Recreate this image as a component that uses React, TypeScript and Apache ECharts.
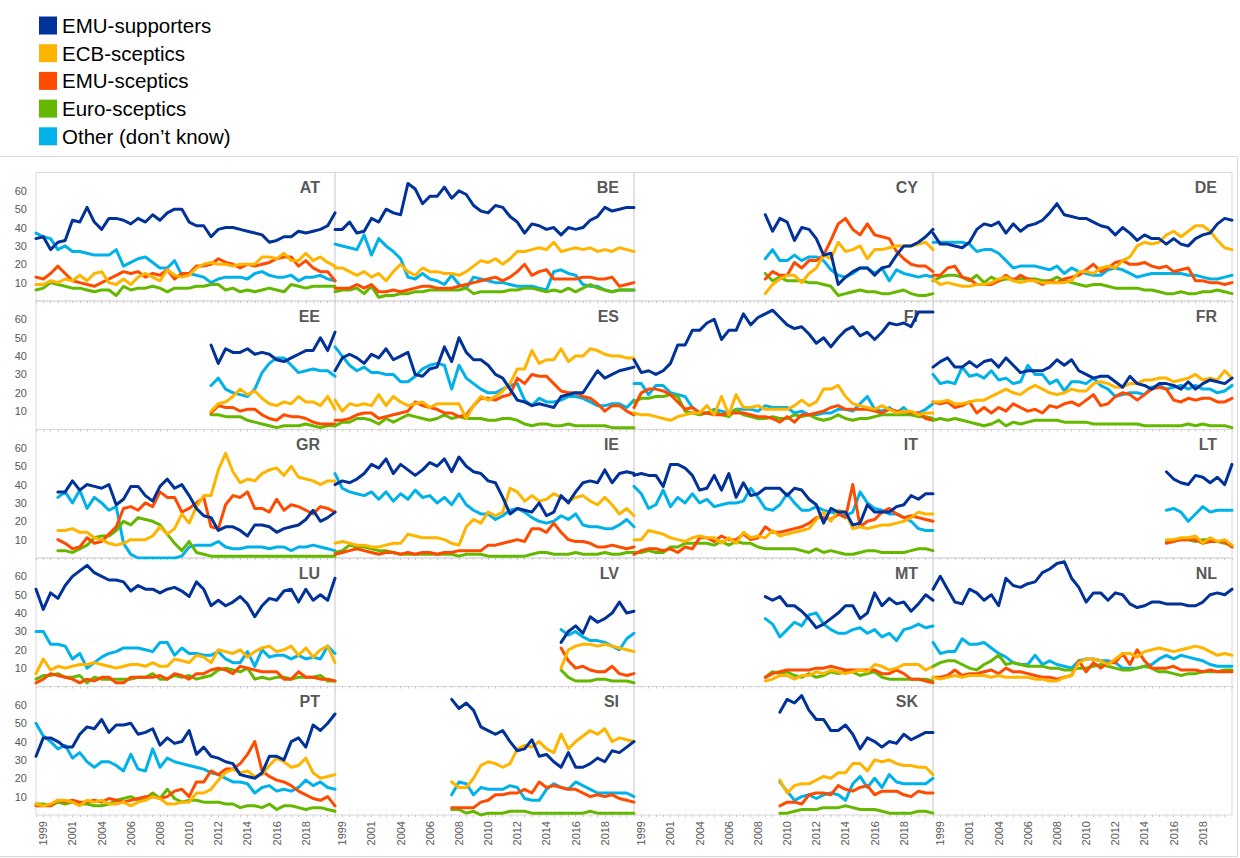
import React, { useEffect, useRef } from "react";
import * as echarts from "echarts";

// Survey waves (category axis); labels show the year of every 4th wave starting at index 1
const surveys = [
  "1998-11", "1999-04", "1999-11", "2000-04", "2000-11", "2001-04", "2001-11", "2002-11", "2003-11", "2004-04",
  "2004-11", "2005-05", "2005-11", "2006-04", "2006-10", "2007-04", "2007-10", "2008-04", "2008-10", "2009-06",
  "2009-11", "2010-05", "2010-11", "2011-05", "2011-11", "2012-05", "2012-11", "2013-05", "2013-11", "2014-05",
  "2014-11", "2015-05", "2015-11", "2016-05", "2016-11", "2017-05", "2017-11", "2018-05", "2018-11", "2019-03",
  "2019-06", "2019-11",
];

const seriesNames = ["EMU-supporters", "ECB-sceptics", "EMU-sceptics", "Euro-sceptics", "Other (don’t know)"];
const seriesColors = ["#003299", "#FFB400", "#FF4B00", "#65B800", "#00B1EA"];

const countries = ["AT", "BE", "CY", "DE", "EE", "ES", "FI", "FR", "GR", "IE", "IT", "LT", "LU", "LV", "MT", "NL", "PT", "SI", "SK"];
// index of the first survey wave available for each country
const firstSurvey = [0, 0, 18, 0, 24, 0, 0, 0, 3, 0, 0, 32, 0, 31, 18, 0, 0, 16, 20];

// each country: [EMU-supporters, ECB-sceptics, EMU-sceptics, Euro-sceptics, Other]
const AT = [
  [34, 35, 28, 32, 33, 44, 43, 51, 43, 39, 45, 45, 44, 42, 45, 43, 47, 44, 48, 50, 50, 43, 41, 41, 35, 39, 40, 40, 39, 38, 37, 36, 32, 33, 35, 35, 38, 37, 38, 39, 41, 48],
  [9, 9, 11, 10, 12, 11, 14, 11, 15, 16, 10, 9, 12, 9, 13, 15, 13, 11, 17, 14, 13, 14, 18, 20, 21, 20, 20, 19, 20, 20, 20, 24, 24, 23, 26, 22, 22, 26, 22, 24, 21, 19],
  [13, 12, 15, 19, 15, 11, 10, 9, 8, 10, 12, 14, 16, 15, 16, 13, 15, 14, 17, 12, 15, 15, 19, 19, 20, 23, 21, 20, 18, 20, 19, 20, 21, 23, 24, 24, 19, 22, 18, 16, 16, 11],
  [6, 7, 10, 9, 8, 7, 7, 6, 5, 6, 6, 3, 8, 6, 7, 7, 8, 7, 5, 7, 7, 7, 8, 8, 9, 9, 6, 7, 5, 6, 5, 6, 7, 6, 5, 9, 8, 7, 8, 8, 8, 8],
  [37, 35, 34, 28, 30, 27, 27, 26, 25, 25, 25, 28, 19, 21, 23, 24, 21, 18, 18, 22, 14, 15, 14, 13, 10, 12, 13, 13, 13, 12, 15, 16, 14, 13, 13, 14, 11, 13, 13, 14, 12, 11],
];
const BE = [
  [39, 39, 43, 37, 38, 45, 43, 50, 48, 47, 64, 61, 53, 57, 57, 62, 56, 60, 58, 52, 49, 48, 52, 51, 46, 43, 37, 42, 41, 39, 40, 36, 40, 39, 40, 44, 46, 51, 49, 50, 51, 51],
  [18, 18, 16, 14, 16, 13, 15, 11, 16, 20, 16, 14, 18, 16, 16, 15, 15, 14, 16, 19, 22, 21, 23, 20, 23, 27, 27, 28, 29, 28, 32, 27, 28, 29, 28, 29, 27, 28, 27, 29, 28, 27],
  [7, 7, 7, 9, 7, 9, 5, 5, 6, 5, 6, 7, 8, 8, 7, 7, 7, 8, 9, 10, 11, 12, 13, 11, 13, 16, 20, 14, 16, 17, 12, 12, 12, 12, 13, 13, 12, 12, 13, 8, 9, 10],
  [5, 6, 6, 7, 4, 8, 2, 3, 3, 4, 4, 5, 5, 6, 6, 6, 6, 6, 7, 4, 5, 5, 5, 5, 6, 6, 7, 7, 6, 5, 6, 5, 7, 5, 7, 9, 7, 6, 5, 6, 6, 6],
  [31, 30, 29, 28, 36, 25, 34, 30, 27, 23, 13, 12, 15, 12, 11, 9, 14, 9, 7, 13, 12, 11, 10, 10, 9, 8, 8, 8, 7, 6, 16, 17, 15, 14, 9, 8, 8, 6, 5, 6, 6, 6],
];
const CY = [
  [47, 38, 45, 43, 33, 40, 39, 34, 25, 26, 9, 13, 16, 18, 18, 14, 18, 19, 25, 30, 30, 32, 35, 39],
  [4, 9, 12, 14, 14, 10, 15, 18, 25, 23, 32, 27, 28, 30, 23, 28, 28, 29, 30, 30, 30, 31, 32, 28],
  [12, 16, 14, 14, 21, 18, 22, 22, 25, 33, 42, 45, 39, 36, 42, 36, 35, 34, 27, 23, 20, 19, 19, 16],
  [15, 11, 13, 11, 11, 11, 10, 10, 9, 8, 3, 4, 5, 6, 5, 5, 4, 4, 5, 6, 4, 3, 3, 4],
  [23, 28, 22, 22, 25, 22, 24, 24, 22, 17, 14, 13, 15, 18, 18, 15, 18, 11, 17, 15, 14, 13, 14, 13],
];
const DE = [
  [37, 31, 31, 30, 29, 32, 39, 42, 41, 43, 37, 42, 38, 41, 42, 44, 48, 53, 47, 46, 45, 45, 43, 41, 40, 36, 40, 37, 33, 36, 34, 34, 31, 34, 31, 30, 34, 36, 37, 42, 45, 44],
  [12, 9, 10, 9, 8, 8, 9, 9, 10, 12, 13, 11, 10, 11, 11, 10, 10, 10, 10, 11, 16, 16, 15, 18, 19, 18, 22, 24, 30, 32, 31, 32, 36, 38, 35, 38, 41, 41, 38, 33, 29, 28],
  [14, 14, 18, 19, 13, 12, 9, 9, 9, 11, 14, 11, 14, 12, 11, 9, 11, 10, 12, 13, 14, 17, 20, 16, 18, 21, 22, 20, 20, 21, 19, 18, 19, 16, 17, 18, 11, 11, 10, 10, 9, 10],
  [11, 13, 14, 14, 13, 11, 14, 10, 13, 11, 12, 12, 12, 12, 12, 11, 11, 13, 11, 10, 9, 8, 9, 9, 8, 7, 7, 7, 7, 6, 6, 5, 4, 4, 5, 4, 4, 5, 5, 6, 5, 4],
  [32, 32, 32, 32, 32, 31, 27, 28, 28, 26, 22, 18, 19, 19, 19, 18, 17, 19, 15, 18, 16, 15, 14, 14, 17, 18, 17, 15, 13, 14, 15, 15, 15, 15, 15, 14, 14, 13, 12, 12, 13, 14],
];
const EE = [
  [46, 36, 44, 42, 42, 44, 41, 42, 41, 38, 37, 39, 41, 43, 43, 50, 43, 53],
  [10, 14, 15, 18, 22, 19, 21, 17, 14, 13, 15, 14, 18, 15, 15, 13, 18, 11],
  [9, 13, 12, 12, 10, 11, 11, 8, 6, 5, 8, 7, 7, 6, 4, 3, 3, 3],
  [8, 8, 7, 7, 7, 5, 4, 3, 2, 1, 2, 2, 2, 3, 2, 1, 2, 2],
  [24, 28, 22, 20, 19, 18, 22, 31, 36, 39, 39, 35, 31, 32, 33, 32, 32, 29],
];
const ES = [
  [32, 39, 41, 39, 36, 41, 39, 44, 38, 40, 42, 30, 29, 33, 34, 45, 37, 50, 42, 38, 38, 35, 30, 28, 22, 16, 15, 13, 14, 13, 12, 18, 19, 20, 20, 26, 32, 28, 30, 32, 33, 34],
  [16, 10, 14, 13, 14, 13, 19, 13, 18, 15, 13, 14, 15, 12, 14, 14, 14, 14, 6, 13, 18, 16, 18, 21, 25, 33, 33, 43, 36, 38, 38, 44, 37, 40, 40, 44, 43, 41, 40, 40, 39, 39],
  [5, 5, 6, 8, 9, 9, 6, 7, 8, 9, 10, 15, 13, 12, 11, 9, 9, 7, 8, 13, 17, 17, 16, 18, 19, 28, 25, 30, 29, 29, 25, 21, 20, 20, 18, 17, 14, 10, 13, 13, 10, 8],
  [2, 4, 4, 6, 6, 5, 3, 6, 4, 6, 8, 7, 6, 5, 6, 8, 6, 7, 6, 6, 6, 5, 5, 6, 6, 5, 3, 2, 3, 3, 2, 2, 3, 2, 2, 2, 2, 2, 1, 1, 1, 1],
  [45, 40, 35, 32, 34, 31, 31, 30, 30, 26, 26, 29, 33, 35, 36, 35, 22, 35, 28, 25, 22, 20, 20, 22, 24, 25, 16, 13, 17, 15, 15, 16, 18, 18, 17, 15, 13, 13, 14, 14, 12, 16],
];
const FI = [
  [38, 31, 32, 30, 32, 36, 46, 46, 54, 54, 58, 60, 49, 54, 54, 63, 57, 61, 63, 65, 61, 57, 55, 56, 52, 47, 50, 45, 50, 54, 56, 51, 53, 49, 53, 58, 57, 58, 56, 64, 64, 64],
  [9, 8, 8, 7, 6, 5, 7, 8, 9, 9, 13, 8, 18, 8, 19, 12, 12, 13, 11, 11, 11, 11, 13, 16, 13, 15, 22, 22, 24, 18, 14, 13, 12, 11, 13, 11, 9, 10, 10, 8, 9, 9],
  [12, 20, 22, 22, 21, 19, 15, 11, 12, 9, 9, 8, 8, 9, 9, 9, 8, 7, 7, 6, 4, 7, 4, 8, 8, 9, 10, 12, 13, 11, 11, 11, 11, 10, 9, 11, 10, 10, 9, 9, 6, 5],
  [15, 17, 17, 18, 18, 19, 18, 10, 9, 8, 9, 10, 8, 7, 11, 8, 7, 6, 6, 7, 6, 6, 8, 7, 8, 6, 5, 6, 8, 6, 5, 6, 6, 7, 8, 8, 8, 8, 8, 7, 7, 6],
  [25, 25, 19, 24, 24, 20, 19, 18, 12, 9, 9, 11, 10, 9, 11, 11, 11, 10, 13, 12, 12, 12, 9, 10, 8, 8, 9, 9, 11, 11, 10, 14, 18, 11, 10, 12, 9, 12, 8, 9, 11, 14],
];
const FR = [
  [34, 37, 39, 34, 34, 37, 34, 37, 38, 34, 39, 35, 31, 32, 32, 32, 34, 38, 35, 38, 32, 30, 28, 29, 29, 26, 23, 29, 25, 24, 22, 25, 25, 24, 22, 26, 22, 25, 27, 26, 25, 28],
  [15, 15, 16, 14, 14, 15, 16, 16, 18, 20, 22, 20, 19, 22, 24, 22, 20, 19, 20, 22, 21, 21, 25, 26, 25, 23, 23, 25, 25, 27, 27, 28, 28, 26, 27, 28, 30, 27, 28, 27, 32, 28],
  [15, 14, 15, 12, 13, 15, 9, 12, 9, 12, 10, 14, 12, 10, 11, 9, 13, 12, 14, 15, 13, 16, 19, 13, 14, 18, 20, 19, 16, 19, 22, 23, 22, 16, 15, 17, 16, 17, 17, 15, 15, 17],
  [5, 6, 5, 6, 5, 4, 3, 2, 3, 5, 2, 4, 3, 4, 5, 5, 5, 5, 4, 4, 4, 4, 3, 3, 3, 3, 3, 3, 3, 2, 2, 2, 2, 2, 2, 3, 2, 3, 2, 2, 2, 1],
  [30, 25, 26, 25, 34, 29, 30, 28, 32, 27, 28, 25, 26, 35, 30, 30, 25, 27, 21, 26, 26, 25, 28, 24, 22, 18, 19, 20, 20, 19, 23, 24, 22, 23, 24, 22, 24, 22, 22, 20, 21, 24],
];
const GR = [
  [36, 36, 42, 37, 40, 39, 38, 40, 29, 32, 39, 39, 34, 31, 39, 43, 38, 40, 34, 27, 23, 22, 15, 17, 17, 15, 12, 18, 18, 17, 14, 16, 17, 18, 21, 26, 20, 22, 25],
  [15, 15, 16, 14, 14, 11, 10, 8, 7, 8, 10, 10, 10, 12, 17, 13, 16, 24, 19, 28, 34, 34, 48, 57, 47, 41, 43, 42, 46, 48, 49, 45, 50, 44, 43, 42, 40, 42, 42],
  [10, 8, 5, 6, 11, 8, 9, 13, 17, 27, 28, 26, 30, 28, 36, 33, 33, 25, 27, 30, 33, 17, 16, 29, 34, 33, 36, 27, 27, 25, 32, 26, 29, 28, 26, 24, 28, 27, 25],
  [4, 4, 3, 5, 7, 11, 12, 12, 15, 20, 18, 22, 21, 20, 18, 13, 8, 4, 9, 3, 2, 1, 1, 1, 1, 1, 1, 1, 1, 1, 1, 1, 1, 1, 1, 1, 1, 1, 1],
  [33, 36, 30, 37, 27, 33, 30, 26, 28, 8, 2, 0, 0, 0, 0, 0, 0, 1, 6, 7, 7, 7, 9, 6, 5, 5, 6, 6, 6, 5, 6, 6, 4, 6, 6, 7, 6, 5, 4],
];
const IE = [
  [40, 42, 41, 43, 46, 51, 49, 54, 46, 51, 48, 45, 48, 52, 50, 54, 47, 55, 50, 47, 46, 42, 41, 33, 24, 27, 26, 25, 30, 23, 25, 34, 30, 36, 41, 42, 41, 48, 41, 46, 47, 46],
  [8, 9, 8, 7, 7, 6, 6, 7, 8, 8, 13, 12, 11, 11, 11, 10, 8, 7, 17, 21, 19, 25, 23, 25, 38, 36, 31, 34, 31, 32, 35, 33, 31, 33, 34, 31, 29, 33, 29, 24, 27, 23],
  [2, 3, 4, 5, 4, 3, 2, 3, 3, 2, 3, 2, 3, 3, 2, 3, 3, 4, 4, 4, 4, 7, 7, 8, 9, 10, 9, 16, 16, 14, 19, 14, 10, 9, 9, 8, 6, 6, 7, 6, 5, 6],
  [3, 4, 7, 6, 6, 5, 4, 4, 3, 2, 2, 2, 2, 2, 2, 2, 2, 1, 2, 2, 2, 1, 1, 1, 1, 1, 1, 2, 3, 3, 2, 2, 2, 3, 2, 2, 2, 3, 2, 2, 3, 3],
  [46, 38, 36, 35, 34, 36, 32, 36, 31, 35, 32, 37, 33, 34, 30, 33, 29, 35, 29, 26, 24, 24, 21, 23, 26, 27, 25, 22, 20, 19, 20, 23, 21, 24, 18, 17, 17, 16, 16, 18, 21, 17],
];
const IT = [
  [45, 46, 45, 45, 39, 51, 51, 49, 45, 37, 38, 45, 37, 46, 33, 41, 34, 35, 38, 38, 38, 34, 38, 37, 32, 29, 19, 27, 25, 25, 18, 19, 29, 25, 25, 25, 28, 29, 34, 32, 35, 35],
  [10, 10, 15, 14, 13, 11, 10, 9, 11, 12, 11, 11, 8, 11, 8, 14, 11, 12, 11, 15, 12, 13, 14, 15, 16, 21, 25, 20, 26, 25, 16, 17, 16, 17, 18, 18, 19, 20, 22, 25, 24, 24],
  [2, 4, 5, 5, 4, 5, 3, 6, 5, 11, 11, 9, 12, 10, 10, 13, 10, 11, 17, 14, 14, 15, 16, 17, 19, 22, 22, 21, 24, 22, 40, 17, 20, 21, 25, 27, 24, 22, 23, 22, 21, 20],
  [3, 3, 4, 3, 3, 6, 6, 8, 8, 8, 8, 7, 9, 7, 9, 8, 8, 6, 5, 5, 5, 5, 5, 4, 3, 5, 3, 4, 3, 2, 2, 3, 4, 4, 3, 3, 3, 3, 4, 5, 5, 4],
  [39, 35, 27, 29, 37, 28, 33, 30, 35, 30, 32, 28, 29, 30, 30, 31, 38, 33, 27, 26, 29, 35, 30, 26, 26, 28, 26, 25, 24, 23, 25, 36, 30, 27, 26, 24, 24, 22, 20, 16, 15, 15],
];
const LT = [
  [47, 43, 41, 40, 45, 44, 41, 44, 40, 51],
  [10, 10, 11, 11, 12, 8, 11, 9, 10, 7],
  [8, 9, 10, 10, 10, 8, 9, 9, 9, 6],
  [9, 10, 10, 10, 9, 10, 10, 9, 8, 7],
  [26, 27, 25, 20, 24, 28, 25, 26, 26, 26],
];
const LU = [
  [53, 42, 51, 48, 55, 60, 63, 66, 62, 60, 58, 58, 57, 52, 55, 53, 53, 51, 53, 54, 52, 49, 57, 53, 44, 47, 44, 46, 49, 45, 38, 44, 48, 47, 52, 53, 46, 53, 47, 50, 47, 59],
  [7, 15, 9, 11, 10, 11, 12, 12, 13, 12, 11, 10, 11, 12, 12, 11, 13, 11, 11, 15, 14, 13, 17, 16, 13, 20, 19, 18, 20, 16, 19, 21, 22, 19, 20, 22, 17, 21, 16, 20, 22, 13],
  [2, 4, 7, 6, 5, 4, 2, 4, 3, 5, 5, 2, 2, 5, 5, 5, 5, 6, 4, 7, 6, 4, 7, 7, 9, 10, 9, 7, 11, 10, 9, 8, 8, 8, 4, 4, 8, 5, 5, 4, 4, 3],
  [4, 6, 6, 7, 5, 5, 6, 2, 5, 4, 4, 4, 4, 4, 5, 5, 7, 4, 4, 6, 5, 6, 4, 5, 6, 9, 10, 9, 8, 10, 4, 5, 4, 5, 5, 4, 5, 5, 5, 6, 3, 3],
  [30, 30, 23, 23, 22, 15, 18, 10, 13, 16, 18, 19, 21, 21, 21, 20, 19, 24, 24, 17, 21, 18, 18, 17, 17, 19, 15, 13, 13, 19, 11, 20, 16, 17, 17, 15, 17, 15, 16, 15, 22, 18],
];
const LV = [
  [24, 30, 33, 29, 38, 35, 37, 40, 46, 40, 41],
  [10, 20, 22, 23, 23, 22, 23, 22, 21, 20, 19],
  [21, 14, 10, 11, 9, 8, 8, 11, 7, 6, 7],
  [9, 5, 3, 3, 3, 4, 4, 3, 3, 3, 2],
  [31, 28, 30, 27, 25, 25, 24, 22, 20, 26, 29],
];
const MT = [
  [49, 47, 49, 44, 44, 41, 37, 32, 34, 37, 40, 44, 44, 37, 40, 51, 44, 48, 45, 46, 41, 45, 50, 47],
  [3, 4, 6, 6, 4, 6, 6, 8, 7, 9, 8, 7, 8, 9, 8, 12, 11, 9, 10, 12, 12, 12, 9, 11],
  [5, 7, 8, 9, 9, 9, 9, 10, 10, 11, 10, 9, 9, 9, 9, 9, 7, 7, 9, 7, 4, 4, 3, 2],
  [5, 8, 7, 8, 6, 5, 7, 5, 6, 8, 7, 8, 8, 6, 7, 8, 5, 4, 4, 4, 4, 4, 4, 3],
  [37, 34, 27, 31, 35, 33, 39, 40, 34, 31, 29, 29, 31, 32, 29, 31, 27, 29, 25, 31, 32, 34, 32, 33],
];
const NL = [
  [53, 60, 53, 46, 45, 53, 51, 47, 50, 44, 59, 55, 54, 56, 57, 62, 64, 67, 68, 59, 54, 46, 51, 51, 47, 51, 50, 45, 43, 44, 46, 46, 45, 45, 45, 44, 44, 46, 50, 51, 50, 53],
  [5, 4, 5, 6, 5, 6, 6, 6, 5, 6, 5, 5, 5, 5, 4, 4, 3, 3, 5, 6, 13, 15, 15, 14, 12, 15, 18, 18, 16, 19, 20, 21, 20, 19, 20, 21, 22, 21, 19, 17, 18, 17],
  [5, 5, 6, 9, 6, 7, 7, 8, 9, 7, 10, 8, 8, 7, 6, 5, 5, 4, 5, 6, 14, 8, 13, 10, 13, 13, 18, 12, 20, 14, 10, 10, 10, 11, 9, 9, 9, 8, 9, 8, 8, 8],
  [11, 13, 14, 14, 12, 10, 9, 12, 14, 17, 12, 13, 12, 11, 11, 11, 10, 10, 9, 9, 10, 10, 11, 12, 11, 10, 9, 9, 10, 11, 10, 8, 8, 7, 6, 7, 7, 8, 8, 8, 9, 9],
  [24, 18, 19, 19, 26, 23, 23, 24, 21, 18, 16, 13, 12, 12, 17, 12, 14, 12, 11, 10, 14, 15, 15, 14, 14, 13, 10, 10, 10, 11, 12, 15, 17, 15, 17, 16, 15, 14, 12, 11, 11, 11],
];
const PT = [
  [32, 42, 42, 40, 37, 37, 44, 48, 47, 52, 45, 49, 49, 50, 44, 45, 47, 38, 42, 39, 40, 46, 33, 37, 32, 31, 29, 28, 22, 21, 20, 23, 32, 32, 30, 40, 42, 37, 49, 46, 50, 55],
  [6, 5, 6, 8, 8, 7, 5, 8, 7, 8, 6, 6, 7, 5, 7, 8, 10, 9, 6, 6, 7, 7, 12, 12, 14, 19, 23, 25, 23, 24, 21, 22, 27, 31, 29, 26, 27, 31, 23, 20, 21, 22],
  [5, 5, 5, 8, 7, 8, 7, 7, 8, 7, 9, 8, 7, 8, 9, 10, 10, 9, 10, 13, 14, 10, 18, 18, 24, 22, 25, 25, 28, 33, 40, 24, 21, 19, 18, 16, 13, 11, 9, 8, 10, 5],
  [6, 6, 5, 7, 6, 7, 6, 6, 5, 5, 6, 8, 9, 10, 8, 9, 12, 9, 14, 9, 7, 8, 8, 7, 7, 7, 6, 6, 4, 5, 5, 4, 6, 3, 5, 5, 4, 3, 4, 4, 3, 2],
  [50, 43, 40, 36, 38, 31, 34, 29, 26, 29, 29, 27, 24, 33, 25, 24, 36, 26, 31, 29, 28, 27, 26, 25, 23, 22, 20, 18, 18, 17, 12, 15, 16, 13, 14, 13, 15, 19, 16, 18, 15, 14],
];
const SI = [
  [63, 58, 61, 57, 48, 46, 44, 46, 40, 35, 36, 41, 32, 33, 29, 26, 34, 26, 26, 28, 31, 29, 35, 34, 37, 40],
  [18, 15, 15, 20, 27, 29, 28, 26, 28, 36, 38, 37, 40, 36, 34, 44, 36, 40, 43, 46, 44, 47, 40, 42, 41, 40],
  [4, 4, 4, 4, 7, 8, 11, 11, 12, 12, 14, 12, 18, 15, 16, 15, 14, 14, 12, 10, 11, 10, 11, 9, 8, 7],
  [3, 3, 1, 2, 0, 1, 1, 1, 2, 2, 2, 1, 1, 1, 1, 1, 1, 1, 1, 2, 1, 1, 1, 1, 1, 1],
  [11, 18, 17, 11, 15, 14, 14, 14, 16, 15, 9, 8, 8, 14, 17, 15, 14, 18, 16, 14, 12, 12, 12, 12, 12, 10],
];
const SK = [
  [56, 63, 61, 65, 57, 52, 52, 46, 46, 49, 44, 36, 42, 40, 37, 40, 39, 44, 41, 43, 45, 45],
  [19, 12, 16, 17, 17, 19, 21, 20, 23, 23, 28, 28, 24, 30, 29, 30, 28, 27, 27, 26, 26, 22],
  [5, 7, 7, 6, 11, 12, 12, 11, 16, 14, 13, 15, 16, 11, 13, 13, 13, 11, 10, 13, 12, 12],
  [1, 1, 2, 3, 3, 3, 4, 4, 4, 5, 4, 3, 3, 3, 2, 1, 1, 1, 1, 2, 2, 1],
  [18, 13, 8, 10, 11, 9, 11, 12, 11, 8, 17, 21, 15, 20, 15, 22, 18, 17, 17, 17, 17, 20],
];

const countryData = [AT, BE, CY, DE, EE, ES, FI, FR, GR, IE, IT, LT, LU, LV, MT, NL, PT, SI, SK];

// layout
const W = 1240;
const H = 858;
const LEFT = 36;
const COLW = 299;
const TOP = 172.5;
const ROWH = 128.5;
const FONT = "'Liberation Sans', Arial, Helvetica, sans-serif";
const GREY = "#595959";
const BORDER = "#d9d9d9";
const DRAW_ORDER = [4, 3, 2, 1, 0];

function buildOption() {
  const grids: any[] = [];
  const xAxes: any[] = [];
  const yAxes: any[] = [];
  const titles: any[] = [];
  const series: any[] = [];
  const nPanels = 20;
  for (let i = 0; i < nPanels; i++) {
    const col = i % 4;
    const row = Math.floor(i / 4);
    const left = LEFT + col * COLW;
    const top = TOP + row * ROWH;
    grids.push({
      left,
      top,
      width: COLW,
      height: ROWH,
      show: true,
      borderColor: BORDER,
      borderWidth: 1,
      backgroundColor: "transparent",
    });
    xAxes.push({
      type: "category",
      gridIndex: i,
      data: surveys,
      boundaryGap: false,
      axisLine: { show: false },
      axisTick: { show: true, interval: 0, length: 2, lineStyle: { color: "#c8c8c8" } },
      splitLine: { show: false },
      axisLabel: {
        show: row === 4,
        rotate: 90,
        interval: (idx: number) => idx % 4 === 1,
        showMaxLabel: false,
        formatter: (v: string) => v.slice(0, 4),
        fontSize: 11,
        color: GREY,
        fontFamily: FONT,
        margin: 6,
      },
    });
    yAxes.push({
      type: "value",
      gridIndex: i,
      min: 0,
      max: 70,
      interval: 10,
      axisLine: { show: false },
      axisTick: { show: false },
      splitLine: { show: false },
      axisLabel: {
        show: col === 0,
        formatter: (v: number) => (v === 0 || v === 70 ? "" : String(v)),
        fontSize: 11,
        color: GREY,
        fontFamily: FONT,
        margin: 9,
      },
    });
    if (i < countries.length) {
      titles.push({
        text: countries[i],
        right: W - (left + COLW) + 15,
        top: top + 7,
        padding: 0,
        z: 0,
        textStyle: { fontSize: 16, fontWeight: "bold", color: GREY, fontFamily: FONT },
      });
      const start = firstSurvey[i];
      const data = countryData[i];
      for (const s of DRAW_ORDER) {
        const vals: (number | null)[] = [];
        for (let k = 0; k < start; k++) vals.push(null);
        for (const v of data[s]) vals.push(v);
        series.push({
          type: "line",
          name: seriesNames[s],
          xAxisIndex: i,
          yAxisIndex: i,
          data: vals.slice(0, surveys.length),
          symbol: "none",
          showSymbol: false,
          silent: true,
          color: seriesColors[s],
          itemStyle: { color: seriesColors[s] },
          lineStyle: { width: 3, color: seriesColors[s], cap: "round", join: "round" },
          z: 2,
        });
      }
    }
  }
  return {
    animation: false,
    backgroundColor: "#ffffff",
    title: titles,
    legend: {
      data: seriesNames,
      orient: "vertical",
      left: 34,
      top: 10,
      itemWidth: 18,
      itemHeight: 18,
      itemGap: 6.7,
      icon: "rect",
      selectedMode: false,
      textStyle: { fontSize: 20.5, color: "#000000", fontFamily: FONT },
    },
    grid: grids,
    xAxis: xAxes,
    yAxis: yAxes,
    series,
    graphic: [
      {
        type: "rect",
        silent: true,
        shape: { x: -1, y: 156.5, width: W - 1.5, height: 700 },
        style: { fill: "none", stroke: BORDER, lineWidth: 1 },
      },
    ],
  };
}

export default function App() {
  const ref = useRef<HTMLDivElement>(null);
  useEffect(() => {
    if (!ref.current) return;
    const chart = echarts.init(ref.current, undefined, { renderer: "svg" });
    chart.setOption(buildOption() as any);
    return () => chart.dispose();
  }, []);
  return (
    <div
      ref={ref}
      style={{ position: "absolute", left: 0, top: 0, width: W, height: H, background: "#fff" }}
    />
  );
}
